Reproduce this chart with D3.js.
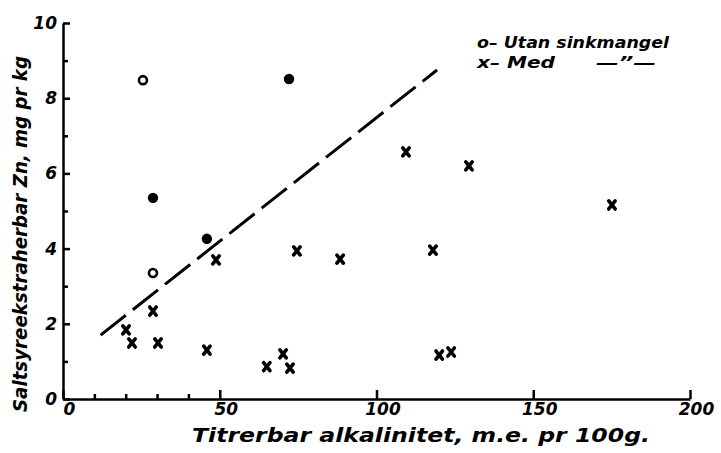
<!DOCTYPE html>
<html>
<head>
<meta charset="utf-8">
<script src="https://cdn.jsdelivr.net/npm/d3@7"></script>
<style>
body { margin: 0; background: #fff; }
text { font-family: "DejaVu Sans", sans-serif; font-weight: bold; font-style: italic; fill: #000; }
</style>
</head>
<body>
<div id="chart"></div>
<script>
// values
var openX = [25.5, 28.7]
var openY = [8.48, 3.35]
var filledX = [72.1, 28.7, 45.9]
var filledY = [8.51, 5.35, 4.26]
var crossX = [48.8, 74.6, 88.4, 109.4, 129.5, 175.1, 118, 28.7, 20.1, 22, 30.3, 45.9, 70.2, 65, 72.4, 120, 123.8]
var crossY = [3.70, 3.94, 3.72, 6.57, 6.2, 5.16, 3.96, 2.34, 1.84, 1.49, 1.49, 1.30, 1.20, 0.86, 0.82, 1.17, 1.25]
var trendX = [12, 119.3]
var trendY = [1.7, 8.75]
var xMajor = [0, 50, 100, 150, 200]
var xMinor = [10, 20, 30, 40]
var yMajor = [0, 2, 4, 6, 8, 10]
var yMinor = [1, 3, 5, 7, 9]

var width = 721, height = 453

var svg = d3.select("#chart")
.append("svg")
.attr("width", width)
.attr("height", height)

var x = d3.scaleLinear().domain([0, 200]).range([63, 690])
var y = d3.scaleLinear().domain([0, 10]).range([399, 23])

// X axis
svg.append("g")
.attr("transform", "translate(0," + y(0) + ")")
.call(d3.axisBottom(x).tickValues(xMinor).tickSize(-5).tickSizeOuter(0).tickFormat(""))
.call(function(g){ g.select(".domain").remove() })
var gx = svg.append("g")
.attr("transform", "translate(0," + y(0) + ")")
.call(d3.axisBottom(x).tickValues(xMajor).tickSize(-9).tickSizeOuter(0).tickPadding(4))
gx.selectAll("text").attr("dx", 6).style("font-size", "17px")

// Y axis
svg.append("g")
.attr("transform", "translate(" + x(0) + ",0)")
.call(d3.axisLeft(y).tickValues(yMinor).tickSize(-5).tickSizeOuter(0).tickFormat(""))
.call(function(g){ g.select(".domain").remove() })
var gy = svg.append("g")
.attr("transform", "translate(" + x(0) + ",0)")
.call(d3.axisLeft(y).tickValues(yMajor).tickSize(-7).tickSizeOuter(0).tickPadding(6))
gy.selectAll("text").style("font-size", "17px")

svg.selectAll(".domain, .tick line")
.attr("stroke", "#000")
.attr("stroke-width", 2.5)

// dashed line
svg.append("line")
.attr("x1", x(trendX[0])).attr("y1", y(trendY[0]))
.attr("x2", x(trendX[1])).attr("y2", y(trendY[1]))
.attr("stroke", "#000")
.attr("stroke-width", 3)
.attr("stroke-dasharray", "32,9")

// open circles
svg.selectAll("c.open")
.data(openX)
.enter()
.append("circle")
.attr("cx", function(d){ return x(d) })
.attr("cy", function(d, i){ return y(openY[i]) })
.attr("r", 4)
.attr("fill", "none")
.attr("stroke", "#000")
.attr("stroke-width", 2.6)

// filled circles
svg.selectAll("c.filled")
.data(filledX)
.enter()
.append("circle")
.attr("cx", function(d){ return x(d) })
.attr("cy", function(d, i){ return y(filledY[i]) })
.attr("r", 5.2)
.attr("fill", "#000")

// crosses
svg.selectAll("p.cross")
.data(crossX)
.enter()
.append("path")
.attr("transform", function(d, i){ return "translate(" + x(d) + "," + y(crossY[i]) + ")" })
.attr("d", "M-3.2,-4L3.2,4M3.2,-4L-3.2,4")
.attr("stroke", "#000")
.attr("stroke-width", 3.6)
.attr("stroke-linecap", "round")

// axis titles
svg.append("text")
.attr("x", 192).attr("y", 442)
.attr("textLength", 458).attr("lengthAdjust", "spacingAndGlyphs")
.style("font-size", "19px")
.text("Titrerbar alkalinitet, m.e. pr 100g.")

svg.append("text")
.attr("transform", "translate(27,412) rotate(-90)")
.attr("textLength", 356).attr("lengthAdjust", "spacingAndGlyphs")
.style("font-size", "19px")
.text("Saltsyreekstraherbar Zn, mg pr kg")

// legend
svg.append("text")
.attr("x", 477).attr("y", 48)
.attr("textLength", 192).attr("lengthAdjust", "spacingAndGlyphs")
.style("font-size", "16px")
.text("o– Utan sinkmangel")
svg.append("text")
.attr("x", 477).attr("y", 68)
.attr("textLength", 78).attr("lengthAdjust", "spacingAndGlyphs")
.style("font-size", "16px")
.text("x– Med")
svg.append("text")
.attr("x", 596).attr("y", 68)
.attr("textLength", 60).attr("lengthAdjust", "spacingAndGlyphs")
.style("font-size", "16px")
.text("—\u201D—")
</script>
</body>
</html>
